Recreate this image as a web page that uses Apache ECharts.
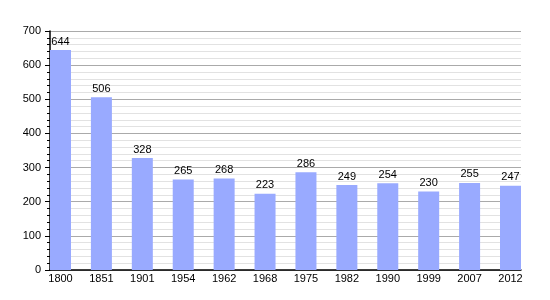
<!DOCTYPE html>
<html><head><meta charset="utf-8">
<script src="https://cdn.jsdelivr.net/npm/echarts@6/dist/echarts.min.js"></script>
<style>html,body{margin:0;padding:0;background:#fff}#c{width:550px;height:300px}</style>
</head><body><div id="c"></div>
<script>
const years = ['1800','1851','1901','1954','1962','1968','1975','1982','1990','1999','2007','2012'];
const population = [644, 506, 328, 265, 268, 223, 286, 249, 254, 230, 255, 247];
const yTicks = {min: 0, max: 700, step: 100};

const chart = echarts.init(document.getElementById('c'));
const font = 'Liberation Sans, Arial, sans-serif';
chart.setOption({
  animation: false,
  grid: [
    {left: 50, right: 29, top: 31, bottom: 30},
    {left: 60.5, right: 39.5, top: 31, bottom: 30}
  ],
  xAxis: [
    {gridIndex: 0, type: 'value', min: 0, max: 1,
     axisLine: {show: true, lineStyle: {color: '#000', width: 1.5}},
     axisTick: {show: false}, axisLabel: {show: false}, splitLine: {show: false}},
    {gridIndex: 1, type: 'category', data: years, boundaryGap: false,
     axisLine: {show: false}, axisTick: {show: false},
     axisLabel: {fontSize: 11, color: '#000', fontFamily: font, margin: 3, interval: 0}}
  ],
  yAxis: [
    {gridIndex: 0, type: 'value', min: yTicks.min, max: yTicks.max, interval: yTicks.step,
     axisLine: {show: true, lineStyle: {color: '#000', width: 1.5}},
     axisTick: {show: true, length: 5, lineStyle: {color: '#000'}},
     minorTick: {show: true, splitNumber: 5, length: 3, lineStyle: {color: '#000'}},
     axisLabel: {fontSize: 11, color: '#000', fontFamily: font, margin: 9},
     splitLine: {show: true, lineStyle: {color: '#aaaaaa', width: 1}},
     minorSplitLine: {show: true, lineStyle: {color: '#e2e2e2', width: 1}}},
    {gridIndex: 1, type: 'value', min: yTicks.min, max: yTicks.max, show: false}
  ],
  series: [{
    type: 'bar', xAxisIndex: 1, yAxisIndex: 1, data: population, barWidth: 21,
    itemStyle: {color: '#99aaff'},
    label: {show: true, position: 'top', distance: 3, fontSize: 11, color: '#000', fontFamily: font}
  }]
});
</script></body></html>
